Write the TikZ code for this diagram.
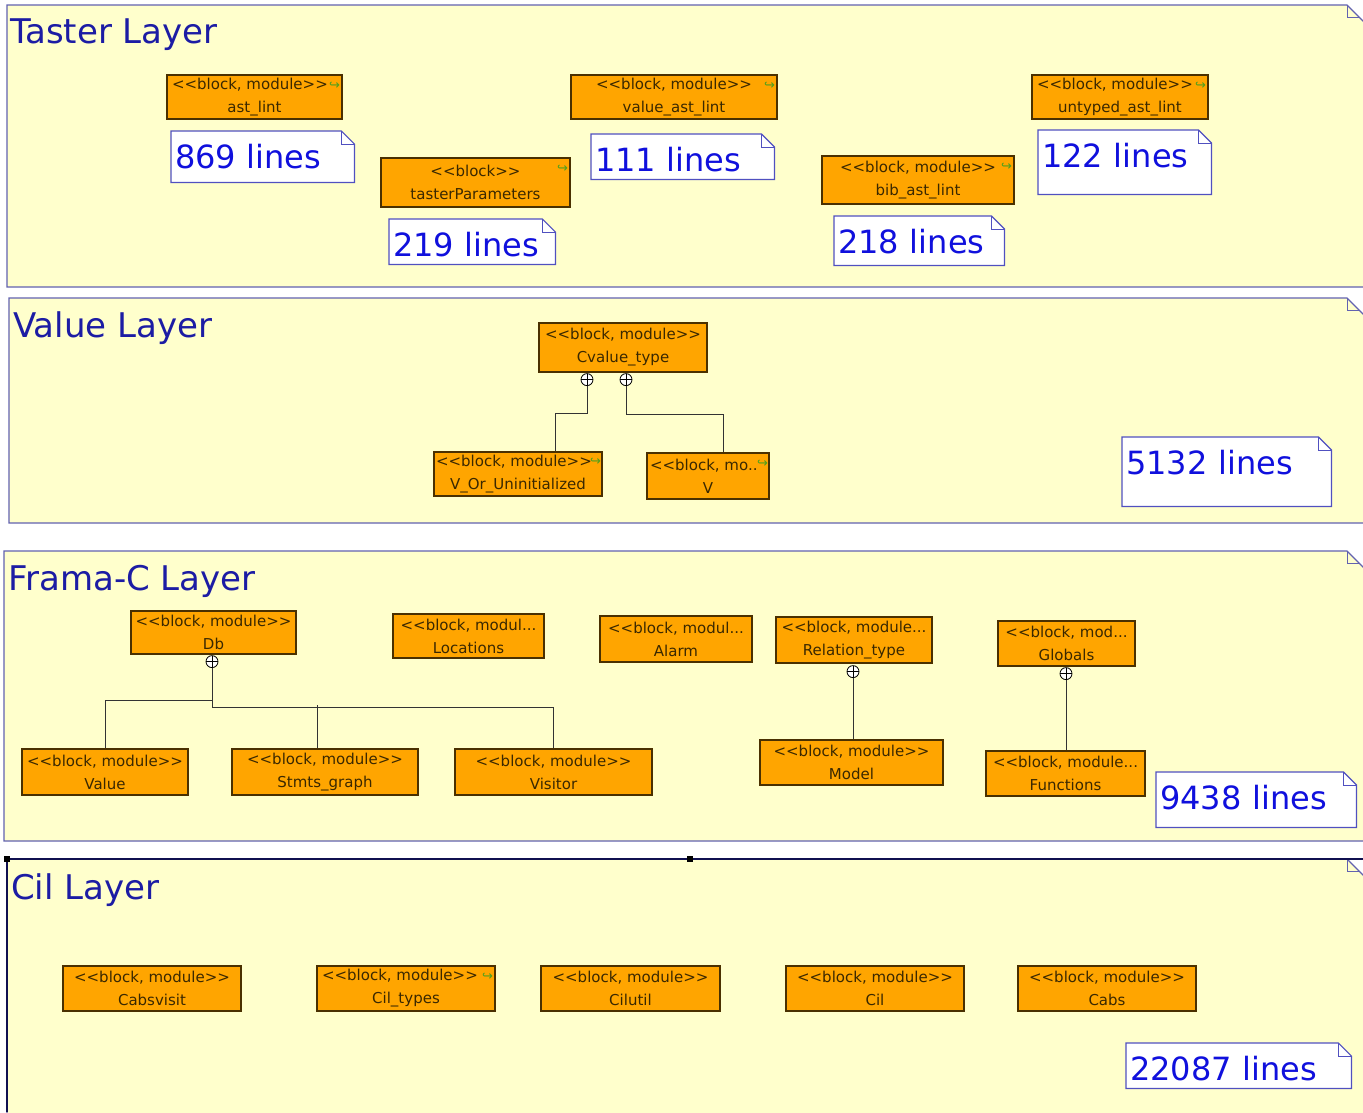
\documentclass[tikz,border=0pt]{standalone}
\usepackage{fontspec}
\newfontfamily\uifont{DejaVu Sans}
\usetikzlibrary{positioning,calc}

\definecolor{layerfill}{HTML}{FFFFCC}
\definecolor{layerline}{HTML}{6262B0}
\definecolor{titleblue}{HTML}{1C1CA4}
\definecolor{noteblue}{HTML}{1010DD}
\definecolor{noteline}{HTML}{5050C0}
\definecolor{modfill}{HTML}{FFA500}
\definecolor{modline}{HTML}{4A3000}
\definecolor{modtext}{HTML}{3A2800}
\definecolor{icongreen}{HTML}{4FA01E}
\definecolor{selline}{HTML}{101050}

\newcommand\titlefont{\uifont\fontsize{34}{36}\selectfont}
\newcommand\notefont{\uifont\fontsize{32}{34}\selectfont}
\newcommand\modfont{\uifont\fontsize{15}{23}\selectfont}
\newcommand\iconfont{\uifont\fontsize{13}{13}\selectfont}

\tikzset{
  layer/.style={draw=layerline, fill=layerfill, line width=1.2pt},
  layertitle/.style={anchor=base west, font=\titlefont, text=titleblue, inner sep=0pt},
  module/.style={draw=modline, fill=modfill, line width=1.2pt, align=center, font=\modfont, text=modtext, inner sep=0pt},
  note/.style={anchor=north west, fill=white, font=\notefont, text=noteblue, align=left, inner xsep=4pt, inner ysep=0pt, text height=37pt},
  noteedge/.style={draw=noteline, line width=1.2pt},
  icon/.style={font=\iconfont, text=icongreen, inner sep=0pt},
  plus/.style={circle, draw=black, fill=white, line width=0.8pt, minimum size=12pt, inner sep=0pt,
    path picture={\draw[line width=0.8pt] (path picture bounding box.north) -- (path picture bounding box.south)
      (path picture bounding box.west) -- (path picture bounding box.east);}},
  link/.style={draw=black!80, line width=1pt},
}

\begin{document}
\begin{tikzpicture}[x=1pt,y=-1pt]
  \useasboundingbox[fill=white] (0,0) rectangle (1363,1112);

  % layers
  \foreach \xa/\ya/\yb in {7/5/287, 9/298/523, 4/551/841, 7/859/1130}{
    \draw[layer] (\xa,\ya) -- (1347,\ya) -- (1366,\ya+19) -- (1366,\yb) -- (\xa,\yb) -- cycle;
    \draw[layerline, line width=1pt] (1347,\ya) -- (1347,\ya+12) -- (1359,\ya+12);
  }
  % selected layer
  \draw[selline, line width=2.5pt] (7,859) -- (1366,859);
  \draw[selline, line width=1.5pt] (7,859) -- (7,1112);
  \fill[black] (4,856) rectangle (10,862);
  \fill[black] (687,856) rectangle (693,862);

  \node[layertitle] (tastertitle) at (10,43) {Taster Layer};
  \node[layertitle] (valuetitle) at (13,337) {Value Layer};
  \node[layertitle] (framactitle) at (8,590) {Frama-C Layer};
  \node[layertitle] (ciltitle) at (11,899) {Cil Layer};

  % Taster layer
  \node[module, minimum width=175pt, minimum height=44pt] (astlint) at (254.5,97) {\makebox[165pt][l]{<<block, module>>}\\ast\_lint};
  \node[module, minimum width=206pt, minimum height=44pt] (valueast) at (674,97) {<<block, module>>\\value\_ast\_lint};
  \node[module, minimum width=176pt, minimum height=44pt] (untyped) at (1120,97) {\makebox[166pt][l]{<<block, module>>}\\untyped\_ast\_lint};
  \node[module, minimum width=189pt, minimum height=49pt] (tparams) at (475.5,182.5) {<<block>>\\tasterParameters};
  \node[module, minimum width=192pt, minimum height=48pt] (bibast) at (918,180) {<<block, module>>\\bib\_ast\_lint};

  \node[note, text width=175pt, text depth=14pt] (n869) at (171,131) {869 lines};
  \node[note, text width=175pt, text depth=8pt] (n111) at (591,134) {111 lines};
  \node[note, text width=165pt, text depth=27pt] (n122) at (1038,130) {122 lines};
  \node[note, text width=158pt, text depth=8pt] (n219) at (389,219) {219 lines};
  \node[note, text width=162pt, text depth=12pt] (n218) at (834,216) {218 lines};

  % Value layer
  \node[module, minimum width=168pt, minimum height=49pt] (cvalue) at (623,347.5) {<<block, module>>\\Cvalue\_type};
  \node[module, minimum width=168pt, minimum height=44pt] (vou) at (518,474) {\makebox[164pt][l]{<<block, module>>}\\V\_Or\_Uninitialized};
  \node[module, minimum width=122pt, minimum height=46pt] (vmod) at (708,476) {\makebox[116pt][l]{<<block, mo..}\\V};
  \node[note, text width=201pt, text depth=32pt] (n5132) at (1122,437) {5132 lines};

  \node[plus] (pcv1) at ([xshift=-36pt,yshift=-7pt]cvalue.south) {};
  \node[plus] (pcv2) at ([xshift=3pt,yshift=-7pt]cvalue.south) {};
  \draw[link] (pcv1.south) -- ++(0,27) -| ([xshift=37pt]vou.north);
  \draw[link] (pcv2.south) -- ++(0,28) -| ([xshift=15pt]vmod.north);

  % Frama-C layer
  \node[module, minimum width=165pt, minimum height=43pt] (db) at (213.5,632.5) {<<block, module>>\\Db};
  \node[module, minimum width=151pt, minimum height=44pt] (locations) at (468.5,636) {<<block, modul...\\Locations};
  \node[module, minimum width=152pt, minimum height=46pt] (alarm) at (676,639) {<<block, modul...\\Alarm};
  \node[module, minimum width=156pt, minimum height=46pt] (relation) at (854,640) {<<block, module...\\Relation\_type};
  \node[module, minimum width=137pt, minimum height=45pt] (globals) at (1066.5,643.5) {<<block, mod...\\Globals};
  \node[module, minimum width=166pt, minimum height=46pt] (value) at (105,772) {<<block, module>>\\Value};
  \node[module, minimum width=186pt, minimum height=46pt] (stmts) at (325,772) {<<block, module>>\\Stmts\_graph};
  \node[module, minimum width=197pt, minimum height=46pt] (visitor) at (553.5,772) {<<block, module>>\\Visitor};
  \node[module, minimum width=183pt, minimum height=45pt] (model) at (851.5,762.5) {<<block, module>>\\Model};
  \node[module, minimum width=159pt, minimum height=45pt] (functions) at (1065.5,773.5) {<<block, module...\\Functions};
  \node[note, text width=192pt, text depth=18pt] (n9438) at (1156,772) {9438 lines};

  \node[plus] (pdb) at ([xshift=-1.5pt,yshift=-7pt]db.south) {};
  \node[plus] (prel) at ([xshift=-1pt,yshift=-8pt]relation.south) {};
  \node[plus] (pglob) at ([xshift=-0.5pt,yshift=-7pt]globals.south) {};
  \draw[link] (pdb.south) -- ++(0,32) -| (value.north);
  \draw[link] (pdb.south) -- ++(0,39) -| (visitor.north);
  \draw[link] ([xshift=-8pt]stmts.north) -- ++(0,-43);
  \draw[link] (prel.south) -- (prel.south |- model.north);
  \draw[link] (pglob.south) -- (pglob.south |- functions.north);

  % Cil layer
  \node[module, minimum width=178pt, minimum height=45pt] (cabsvisit) at (152,988.5) {<<block, module>>\\Cabsvisit};
  \node[module, minimum width=178pt, minimum height=45pt] (ciltypes) at (406,988.5) {\makebox[168pt][l]{<<block, module>>}\\Cil\_types};
  \node[module, minimum width=179pt, minimum height=45pt] (cilutil) at (630.5,988.5) {<<block, module>>\\Cilutil};
  \node[module, minimum width=178pt, minimum height=45pt] (cil) at (875,988.5) {<<block, module>>\\Cil};
  \node[module, minimum width=178pt, minimum height=45pt] (cabs) at (1107,988.5) {<<block, module>>\\Cabs};
  \node[note, text width=217pt, text depth=8pt] (n22087) at (1126,1043) {22087 lines};

  % icons
  \foreach \m in {astlint,valueast,untyped,tparams,bibast,ciltypes}
    \node[icon] (\m-icon) at ([xshift=-8pt,yshift=-11pt]\m.north east) {↪};
  \node[icon] (vou-icon) at ([xshift=-7pt,yshift=-10pt]vou.north east) {↪};
  \node[icon] (vmod-icon) at ([xshift=-7pt,yshift=-11pt]vmod.north east) {↪};

  % folded corners of the notes
  \foreach \n in {n869,n111,n122,n219,n218,n5132,n9438,n22087}{
    \fill[layerfill] ([xshift=-13pt]\n.north east) -- (\n.north east) -- ([yshift=-13pt]\n.north east) -- cycle;
    \draw[noteedge] (\n.south west) -- (\n.north west) -- ([xshift=-13pt]\n.north east) -- ([yshift=-13pt]\n.north east) -- (\n.south east) -- cycle;
    \draw[noteline, line width=0.8pt] ([xshift=-13pt]\n.north east) -- ([xshift=-13pt,yshift=-13pt]\n.north east) -- ([yshift=-13pt]\n.north east);
  }
\end{tikzpicture}
\end{document}
